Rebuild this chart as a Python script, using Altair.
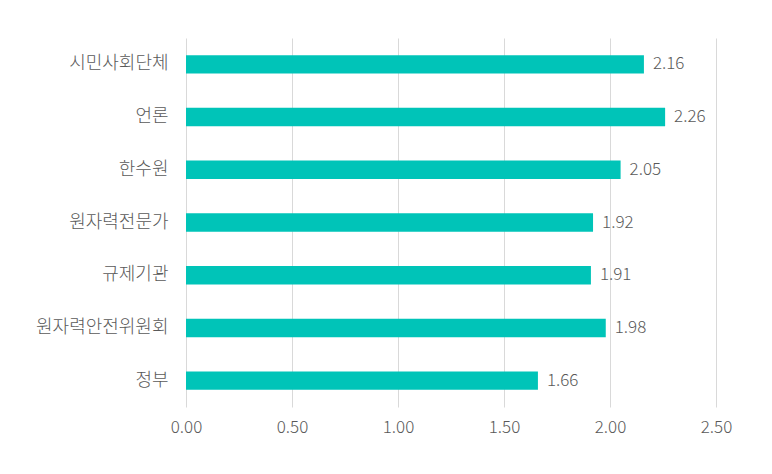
import altair as alt
import pandas as pd

categories = ["시민사회단체", "언론", "한수원", "원자력전문가", "규제기관", "원자력안전위원회", "정부"]
values = [2.16, 2.26, 2.05, 1.92, 1.91, 1.98, 1.66]
x_ticks = [0.0, 0.5, 1.0, 1.5, 2.0, 2.5]

df = pd.DataFrame({"category": categories, "value": values})

FONT = "Noto Sans CJK KR"
GRAY = "#595959"

y_enc = alt.Y("category:N", sort=categories, title=None,
              scale=alt.Scale(paddingInner=0.65, paddingOuter=0.325),
              axis=alt.Axis(domain=False, ticks=False, labelFont=FONT, labelFontSize=18,
                            labelFontWeight=300,
                            labelColor=GRAY, labelPadding=18, grid=False))
x_enc = alt.X("value:Q", title=None,
              scale=alt.Scale(domain=[0, 2.5], nice=False),
              axis=alt.Axis(values=x_ticks, format=".2f", domain=False, ticks=False,
                            labelFont=FONT, labelFontSize=17, labelFontWeight=300,
                            labelColor=GRAY, labelFlush=False,
                            labelPadding=12, grid=True, gridColor="#d9d9d9", gridWidth=1))

bars = alt.Chart(df).mark_bar(color="#00C4B8").encode(x=x_enc, y=y_enc)
text = alt.Chart(df).mark_text(align="left", dx=9, font=FONT, fontSize=17, fontWeight=300,
                               color=GRAY).encode(
    x="value:Q", y=alt.Y("category:N", sort=categories), text=alt.Text("value:Q", format=".2f"))

chart = (bars + text).properties(
    width=530, height=369,
    background="white",
    autosize=alt.AutoSizeParams(type="none"),
    padding={"left": 186, "top": 38, "right": 56, "bottom": 67},
).configure_view(stroke=None)

chart.save("out.html", embed_options={"renderer": "svg", "actions": False})
